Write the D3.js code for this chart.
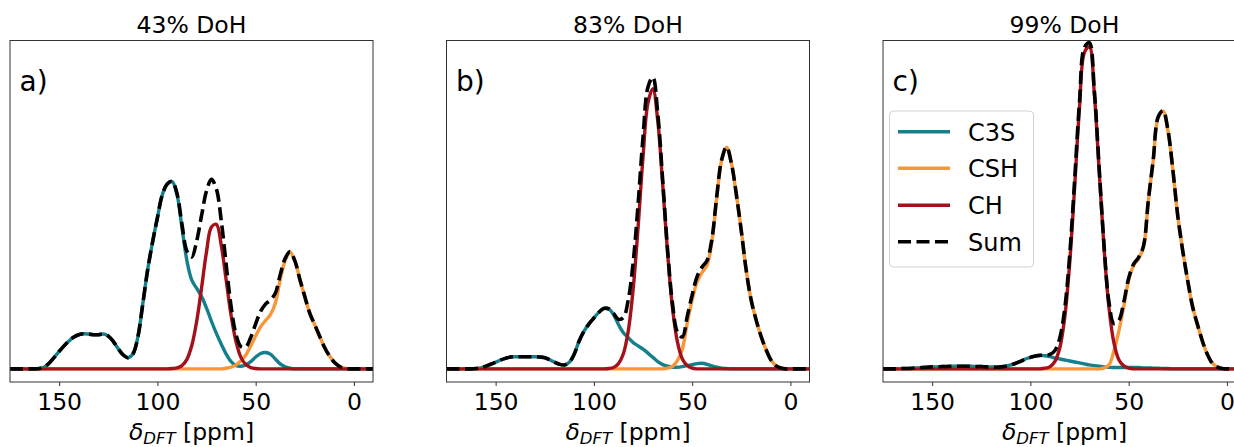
<!DOCTYPE html>
<html>
<head>
<meta charset="utf-8">
<script src="https://cdn.jsdelivr.net/npm/d3@7/dist/d3.min.js"></script>
<style>
  html, body { margin: 0; padding: 0; background: #fff; }
  svg { display: block; }
  text { font-family: "DejaVu Sans", sans-serif; fill: #000; }
</style>
</head>
<body>
<svg id="chart" width="1234" height="447"></svg>
<script>
// chemical shift grid (ppm), shared by all series
const ppm = [175,172.5,170,167.5,165,162.5,160,157.5,155,152.5,
  150,147.5,145,142.5,140,137.5,135,132.5,130,127.5,
  125,122.5,120,117.5,115,112.5,110,107.5,105,102.5,
  100,97.5,95,92.5,90,87.5,85,82.5,80,77.5,
  75,72.5,70,67.5,65,62.5,60,57.5,55,52.5,
  50,47.5,45,42.5,40,37.5,35,32.5,30,27.5,
  25,22.5,20,17.5,15,12.5,10,7.5,5,2.5,
  0,-2.5,-5,-7.5,-10];

const panelTitles = ["43% DoH", "83% DoH", "99% DoH"];
const panelLabels = ["a)", "b)", "c)"];
const seriesNames = ["C3S", "CSH", "CH", "Sum"];
const xTicks = [150, 100, 50, 0];

// ---- panel a: 43% DoH ----
const c3sA = [0,0,0,0,0,0,0.001,0.006,0.018,0.035,
  0.053,0.07,0.085,0.097,0.104,0.107,0.106,0.104,0.104,0.106,
  0.1,0.084,0.062,0.043,0.034,0.045,0.095,0.195,0.3,0.385,
  0.46,0.53,0.563,0.57,0.53,0.43,0.33,0.27,0.245,0.22,
  0.185,0.145,0.108,0.075,0.045,0.022,0.01,0.008,0.012,0.022,
  0.036,0.047,0.05,0.045,0.03,0.015,0.006,0.002,0,0,
  0,0,0,0,0,0,0,0,0,0,
  0,0,0,0,0];
const cshA = [0,0,0,0,0,0,0,0,0,0,
  0,0,0,0,0,0,0,0,0,0,
  0,0,0,0,0,0,0,0,0,0,
  0,0,0,0,0,0,0,0,0,0,
  0,0,0,0,0.002,0.005,0.012,0.025,0.042,0.07,
  0.1,0.128,0.147,0.165,0.2,0.272,0.33,0.355,0.328,0.272,
  0.22,0.17,0.135,0.1,0.066,0.04,0.02,0.008,0.002,0,
  0,0,0,0,0];
const chA = [0,0,0,0,0,0,0,0,0,0,
  0,0,0,0,0,0,0,0,0,0,
  0,0,0,0,0,0,0,0,0,0,
  0,0,0,0.001,0.003,0.01,0.029,0.071,0.145,0.248,
  0.357,0.432,0.44,0.376,0.27,0.163,0.083,0.035,0.013,0.004,
  0.001,0,0,0,0,0,0,0,0,0,
  0,0,0,0,0,0,0,0,0,0,
  0,0,0,0,0];

// ---- panel b: 83% DoH ----
const c3sB = [0,0,0,0,0,0,0.001,0.003,0.008,0.014,
  0.02,0.027,0.032,0.036,0.037,0.037,0.037,0.037,0.037,0.036,
  0.034,0.028,0.02,0.014,0.012,0.02,0.045,0.085,0.115,0.137,
  0.155,0.172,0.184,0.182,0.165,0.135,0.11,0.095,0.08,0.07,
  0.06,0.048,0.035,0.022,0.013,0.008,0.005,0.005,0.007,0.01,
  0.013,0.016,0.017,0.014,0.009,0.005,0.002,0.001,0,0,
  0,0,0,0,0,0,0,0,0,0,
  0,0,0,0,0];
const cshB = [0,0,0,0,0,0,0,0,0,0,
  0,0,0,0,0,0,0,0,0,0,
  0,0,0,0,0,0,0,0,0,0,
  0,0,0,0,0,0,0,0,0,0,
  0,0,0,0,0,0.002,0.008,0.025,0.06,0.14,
  0.21,0.265,0.293,0.315,0.385,0.52,0.635,0.675,0.625,0.53,
  0.42,0.3,0.21,0.15,0.1,0.06,0.028,0.01,0.003,0,
  0,0,0,0,0];
const chB = [0,0,0,0,0,0,0,0,0,0,
  0,0,0,0,0,0,0,0,0,0,
  0,0,0,0,0,0,0,0,0,0,
  0,0,0,0.001,0.004,0.016,0.046,0.116,0.245,0.433,
  0.646,0.81,0.853,0.755,0.562,0.352,0.185,0.082,0.03,0.01,
  0.002,0,0,0,0,0,0,0,0,0,
  0,0,0,0,0,0,0,0,0,0,
  0,0,0,0,0];

// ---- panel c: 99% DoH ----
const c3sC = [0,0,0,0,0.001,0.001,0.002,0.003,0.004,0.005,
  0.006,0.006,0.007,0.007,0.008,0.008,0.008,0.008,0.008,0.007,
  0.007,0.006,0.006,0.005,0.006,0.008,0.012,0.017,0.023,0.03,
  0.035,0.039,0.041,0.04,0.037,0.033,0.03,0.027,0.024,0.021,
  0.018,0.015,0.012,0.01,0.008,0.006,0.005,0.004,0.004,0.004,
  0.004,0.004,0.004,0.003,0.003,0.002,0.002,0.001,0.001,0,
  0,0,0,0,0,0,0,0,0,0,
  0,0,0,0,0];
const cshC = [0,0,0,0,0,0,0,0,0,0,
  0,0,0,0,0,0,0,0,0,0,
  0,0,0,0,0,0,0,0,0,0,
  0,0,0,0,0,0,0,0,0,0,
  0,0,0,0,0,0.003,0.012,0.055,0.115,0.19,
  0.27,0.315,0.335,0.37,0.51,0.635,0.765,0.785,0.725,0.605,
  0.465,0.36,0.27,0.19,0.135,0.085,0.045,0.018,0.006,0.001,
  0,0,0,0,0];
const chC = [0,0,0,0,0,0,0,0,0,0,
  0,0,0,0,0,0,0,0,0,0,
  0,0,0,0,0,0,0,0,0,0,
  0,0,0,0.002,0.007,0.023,0.065,0.158,0.323,0.553,
  0.797,0.964,0.981,0.84,0.603,0.365,0.185,0.079,0.028,0.009,
  0.002,0,0,0,0,0,0,0,0,0,
  0,0,0,0,0,0,0,0,0,0,
  0,0,0,0,0];

const panelData = [
  [c3sA, cshA, chA],
  [c3sB, cshB, chB],
  [c3sC, cshC, chC]
];

const colors = { C3S: "#13808b", CSH: "#f8963a", CH: "#a5111a", Sum: "#000000" };

const svg = d3.select("#chart");
const panelLefts = [10, 446.5, 883];
const panelW = 363, plotTop = 40.5, plotBottom = 382;

const y = d3.scaleLinear().domain([-0.04, 1.0]).range([plotBottom, plotTop]);

panelLefts.forEach((left, pi) => {
  const x = d3.scaleLinear().domain([175, -9.7]).range([left, left + panelW]);
  const g = svg.append("g");
  const clipId = "clip" + pi;
  svg.append("defs").append("clipPath").attr("id", clipId)
    .append("rect").attr("x", left).attr("y", plotTop).attr("width", panelW).attr("height", plotBottom - plotTop);

  const [c3s, csh, ch] = panelData[pi];
  const sum = ppm.map((_, i) => c3s[i] + csh[i] + ch[i]);
  const line = d3.line().x((d, i) => x(ppm[i])).y(d => y(d)).curve(d3.curveCatmullRom.alpha(0.5));

  const lines = g.append("g").attr("clip-path", `url(#${clipId})`);
  [[c3s, "C3S"], [csh, "CSH"], [ch, "CH"]].forEach(([arr, name]) => {
    lines.append("path").datum(arr).attr("d", line)
      .attr("fill", "none").attr("stroke", colors[name]).attr("stroke-width", 3.4)
      .attr("stroke-linejoin", "round");
  });
  lines.append("path").datum(sum).attr("d", line)
    .attr("fill", "none").attr("stroke", colors.Sum).attr("stroke-width", 3.6)
    .attr("stroke-dasharray", "13,5.5");

  // frame
  g.append("rect").attr("x", left).attr("y", plotTop).attr("width", panelW).attr("height", plotBottom - plotTop)
    .attr("fill", "none").attr("stroke", "#333").attr("stroke-width", 1);

  // x axis
  const axis = d3.axisBottom(x).tickValues(xTicks).tickSize(4).tickPadding(4).tickFormat(d3.format("d"));
  const ax = g.append("g").attr("transform", `translate(0,${plotBottom})`).call(axis);
  ax.select(".domain").remove();
  ax.selectAll(".tick line").attr("stroke", "#333").attr("stroke-width", 1);
  ax.selectAll(".tick text").attr("font-size", 23.5).attr("font-family", "DejaVu Sans").attr("fill", "#000")
    .attr("dy", null).attr("y", 28);

  // title
  g.append("text").attr("x", left + panelW / 2).attr("y", 33).attr("text-anchor", "middle")
    .attr("font-size", 23.5).text(panelTitles[pi]);

  // panel label
  g.append("text").attr("x", left + 9.5).attr("y", 91).attr("font-size", 28).text(panelLabels[pi]);

  // x label
  const xl = g.append("text").attr("x", left + panelW / 2).attr("y", 440).attr("text-anchor", "middle")
    .attr("font-size", 23.5);
  xl.append("tspan").attr("font-style", "italic").text("δ");
  xl.append("tspan").attr("font-style", "italic").attr("font-size", 16.5).attr("dy", 4).text("DFT");
  xl.append("tspan").attr("dy", -4).text(" [ppm]");
});

// legend in panel c
const lg = svg.append("g");
lg.append("rect").attr("x", 889.5).attr("y", 111).attr("width", 144).attr("height", 156).attr("rx", 4)
  .attr("fill", "#fff").attr("fill-opacity", 0.8).attr("stroke", "#d3d3d3").attr("stroke-width", 1);
const rowY = [131.7, 168.3, 205.2, 241.7];
seriesNames.forEach((name, i) => {
  const l = lg.append("line").attr("x1", 898).attr("x2", 950).attr("y1", rowY[i]).attr("y2", rowY[i])
    .attr("stroke", colors[name]).attr("stroke-width", name === "Sum" ? 3.6 : 3.4);
  if (name === "Sum") l.attr("stroke-dasharray", "13,5.5");
  lg.append("text").attr("x", 968).attr("y", rowY[i] + 9).attr("font-size", 24).text(name);
});
</script>
</body>
</html>
